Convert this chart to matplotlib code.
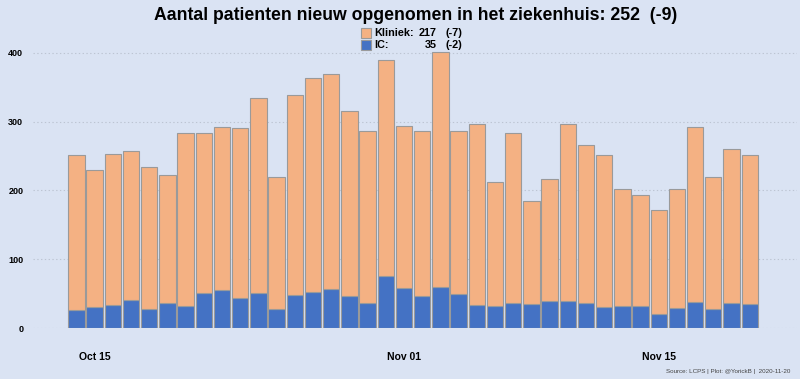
import matplotlib
matplotlib.use("Agg")
import matplotlib.pyplot as plt
import matplotlib.dates as mdates
from matplotlib.patches import Rectangle
import pandas as pd

dates = pd.date_range("2020-10-14", "2020-11-20", freq="D")
ic = [26, 30, 34, 41, 28, 37, 32, 51, 55, 43, 51, 28, 48, 52, 57, 47, 36, 76, 58,
      47, 59, 50, 34, 32, 37, 35, 40, 39, 36, 31, 32, 32, 21, 29, 38, 27, 37, 35]
total = [251, 230, 253, 257, 234, 222, 283, 283, 293, 291, 335, 219, 339, 364, 369, 316, 287, 390, 294,
         286, 401, 286, 296, 213, 284, 185, 217, 297, 266, 251, 202, 194, 172, 202, 293, 219, 261, 252]
kliniek = [t - i for t, i in zip(total, ic)]
yticks = [0, 100, 200, 300, 400]
xtick_dates = ["2020-10-15", "2020-11-01", "2020-11-15"]

plt.rcParams["font.family"] = ["Liberation Sans", "DejaVu Sans"]

bg = "#dae3f3"
orange = "#f4b183"
blue = "#4472c4"
edge = "#9a9a9a"

fig = plt.figure(figsize=(8, 3.79), dpi=100, facecolor=bg)
W, H = 800, 379
ymax = 420
ax = fig.add_axes([33 / W, 51 / H, 764 / W, ymax * 0.6875 / H])
ax.set_facecolor(bg)

ax.bar(dates, ic, width=0.9, color=blue, edgecolor=edge, linewidth=0.8, zorder=3)
ax.bar(dates, kliniek, bottom=ic, width=0.9, color=orange, edgecolor=edge, linewidth=0.8, zorder=3)

first = mdates.date2num(dates[0])
ax.set_xlim(first - 2.39, first + 39.6)
ax.set_ylim(0, ymax)
ax.set_yticks(yticks)
ax.set_yticklabels([str(v) for v in yticks], fontsize=6.5, fontweight="bold")
for y in yticks:
    ax.axhline(y, color="#bcc4d2", linestyle=(0, (1.2, 2.2)), linewidth=0.8, zorder=1)
ax.set_xticks([mdates.date2num(pd.Timestamp(d)) for d in xtick_dates])
ax.set_xticklabels([pd.Timestamp(d).strftime("%b %d") for d in xtick_dates],
                   fontsize=7.5, fontweight="bold")
ax.tick_params(axis="x", length=0, pad=17)
ax.tick_params(axis="y", length=0, pad=7)
for s in ax.spines.values():
    s.set_visible(False)

tot_last = total[-1]
tot_diff = total[-1] - total[-2]
kl_last = kliniek[-1]
kl_diff = kliniek[-1] - kliniek[-2]
ic_last = ic[-1]
ic_diff = ic[-1] - ic[-2]

fig.text(416 / W, 1 - 15 / H, f"Aantal patienten nieuw opgenomen in het ziekenhuis: {tot_last}  ({tot_diff})",
         ha="center", va="center", fontsize=12.7, fontweight="bold")

# legend
fig.patches.append(Rectangle((361 / W, 1 - 38 / H), 10 / W, 10 / H, transform=fig.transFigure,
                             facecolor=orange, edgecolor=edge, linewidth=0.8))
fig.patches.append(Rectangle((361 / W, 1 - 50 / H), 10 / W, 10 / H, transform=fig.transFigure,
                             facecolor=blue, edgecolor=edge, linewidth=0.8))
lf = dict(fontsize=7.8, fontweight="bold", va="center")
fig.text(374 / W, 1 - 33 / H, "Kliniek:", ha="left", **lf)
fig.text(437 / W, 1 - 33 / H, f"{kl_last}", ha="right", **lf)
fig.text(446 / W, 1 - 33 / H, f"({kl_diff})", ha="left", **lf)
fig.text(374 / W, 1 - 45 / H, "IC:", ha="left", **lf)
fig.text(437 / W, 1 - 45 / H, f"{ic_last}", ha="right", **lf)
fig.text(446 / W, 1 - 45 / H, f"({ic_diff})", ha="left", **lf)

fig.text(790 / W, 1 - 372 / H, "Source: LCPS | Plot: @YorickB |  2020-11-20",
         ha="right", va="center", fontsize=4.5, color="#444444")

fig.savefig("out.png", dpi=100, facecolor=bg)
